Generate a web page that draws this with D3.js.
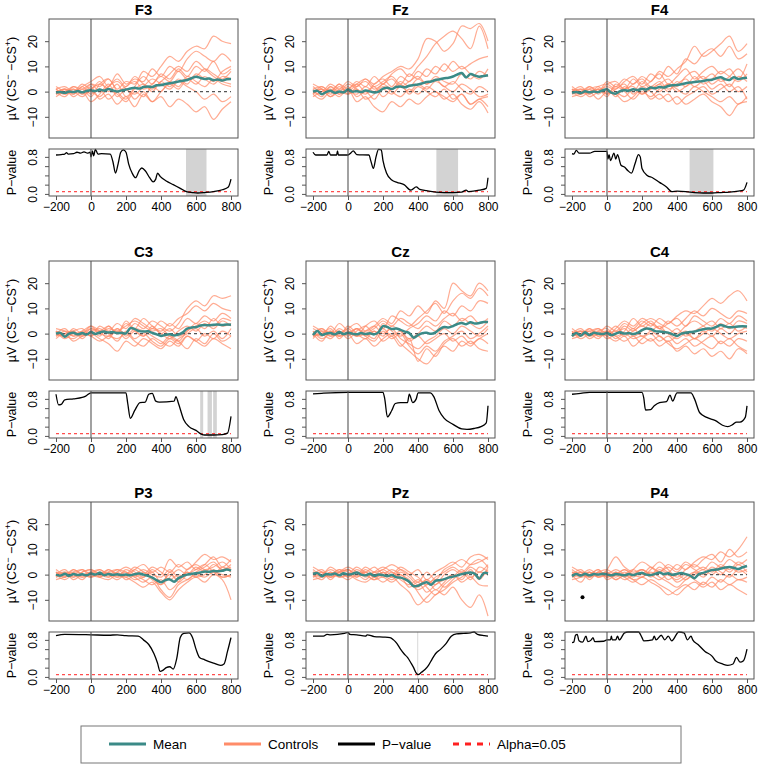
<!DOCTYPE html>
<meta charset="utf-8">
<style>
  body { margin: 0; background: #fff; }
  text { font-family: "Liberation Sans", Arial, sans-serif; fill: #000; }
  .title { font-size: 15px; font-weight: bold; text-anchor: middle; }
  .tick text { font-size: 12px; }
  .axlab { font-size: 12.5px; text-anchor: middle; }
  .legend text { font-size: 13.5px; }
</style>
<body>
<script src="https://d3js.org/d3.v7.min.js"></script>
<script>

var channels = ["F3", "Fz", "F4", "C3", "Cz", "C4", "P3", "Pz", "P4"];

var ctrlTimes = [-200, -150, -100, -50, 0, 50, 100, 150, 200, 250, 300, 350, 400, 450, 500, 550, 600, 650, 700, 750, 800];
var meanTimes = d3.range(-200, 801, 25);
var xTicks = [-200, 0, 200, 400, 600, 800];
var yTicks = [-10, 0, 10, 20];
var pTicks = [0, 0.2, 0.4, 0.6, 0.8];
var pLabels = [0, 0.8];
var alpha = 0.05;

// group means (25 ms steps)
var meanF3 = [-0.4,-0.2,-0.5,0,-0.2,0.2,-0.3,0.3,0.5,0.2,0.8,0.4,1.0,0.5,0,0.5,0.8,1.2,1.5,1.2,1.8,2.0,1.8,2.5,2.6,3.0,3.3,3.6,4.0,4.3,4.6,5.3,5.9,5.4,5.0,5.2,4.5,4.8,4.4,4.9,5.0];
var meanFz = [0,0.3,-1,-0.2,0.3,-0.5,0,-0.3,0.8,0,0.2,-0.2,0.4,0.1,-0.4,0,1.2,1.5,1.0,1.8,2.0,1.7,2.3,2.6,2.8,3.3,3.8,4.0,4.6,4.9,5.3,5.5,6.0,6.8,7.4,5.6,7.0,6.4,5.9,6.2,6.5];
var meanF4 = [-0.5,-0.2,-0.6,0.1,-0.3,0,-0.2,0.5,0.9,-0.4,-0.8,0.2,0.5,0.4,0.9,0.6,1.1,0.8,1.6,1.3,1.8,1.6,2.2,2.5,2.6,2.9,3.3,3.6,3.8,4.0,4.2,4.6,4.7,5.3,5.7,4.9,4.6,5.7,5.0,5.3,5.5];
var meanC3 = [0,0.3,-1.2,0,0.3,-0.3,0.2,-0.4,0.6,-0.2,0.5,0.8,0.4,0.6,0.2,0.3,0.1,2.2,1.8,1.0,0.8,0.9,0.3,-0.3,-0.9,-0.5,-0.3,-0.7,-0.4,0.5,2.0,2.4,2.6,3.2,3.4,3.3,3.5,3.6,3.4,3.6,3.5];
var meanCz = [-0.6,1.0,-0.5,0,0.2,-0.3,0.6,-0.2,0.3,0,-0.3,0.2,-0.2,0.1,-0.3,0.6,3.0,2.6,1.8,2.0,1.5,0.8,0.2,-1.6,-0.6,0.2,0.3,-0.1,0.5,1.8,2.6,2.4,3.0,3.8,4.2,3.7,4.5,4.0,4.2,4.6,4.6];
var meanC4 = [-1.0,0.2,-0.8,0.5,-0.6,0.3,0,-0.2,0.2,-0.6,0,0.5,0,0.2,-0.2,0.3,1.4,2.0,1.8,1.0,0.8,0.6,0.4,-0.3,-0.9,0,0.4,0.6,0.8,1.3,1.7,2.0,2.0,2.7,3.4,2.9,2.5,2.6,2.8,2.9,2.8];
var meanP3 = [0,-0.4,0.3,-0.5,0.2,-0.2,0.1,-0.3,0.4,0,0.7,-0.2,0.2,-0.1,0.1,-0.2,0,-0.3,0.2,0.4,0,-0.5,-1.2,-2.2,-3.0,-2.2,-1.9,-2.8,-1.4,-0.6,0,0.3,0.5,0.8,1.2,1.1,1.4,1.3,1.5,2.0,1.6];
var meanPz = [0.3,0.6,-0.6,0.2,0,0.4,-0.3,0.5,0,0.3,0.8,0,-0.3,0.3,-0.5,0,-0.2,-0.6,-0.2,-1.0,-1.2,-1.8,-2.8,-4.6,-4.4,-3.6,-3.0,-4.0,-2.5,-2.2,-1.8,-1.2,-0.8,-0.3,0.2,0.6,0.8,0.3,-1.6,0.6,0.5];
var meanP4 = [-0.6,0.2,-0.4,0.3,-0.3,0.2,0,0.3,0.1,-0.3,0.2,0,-0.3,0.2,-0.2,0.4,0.6,0,-0.2,0.3,0.8,0.2,0.5,-0.1,0.3,0.6,0.2,-0.4,-1.4,0.2,0.7,1.3,1.8,2.0,2.4,2.8,3.0,2.7,2.2,2.9,3.4];

// individual controls (50 ms steps)
var ctrlF3 = [
  [1,-1,2,0,3,2,5,1,4,3,8,6,10,14,12,16,18,17,22,20,19],
  [-1,1,0,2,4,6,2,7,3,5,4,9,6,10,8,13,16,14,12,15,12],
  [2,0,-1,1,-2,3,5,0,-3,2,6,3,7,5,9,6,10,8,12,7,9],
  [0,-2,1,-1,2,-3,-1,-5,-2,-6,-1,-4,0,3,1,5,3,6,4,8,10],
  [-1,1,-2,0,-4,-1,3,-2,1,-3,0,-4,-2,-6,-3,-5,-8,-6,-11,-7,-4],
  [1,2,0,3,1,4,0,3,-2,1,3,0,4,2,5,3,7,5,3,6,5],
  [-2,0,1,-1,0,-2,2,4,1,-1,2,5,3,1,4,2,0,-3,-1,-4,-2],
  [0,1,-1,2,-1,1,-3,0,2,4,1,3,6,4,8,5,6,9,7,5,8],
  [1,-1,0,-2,1,3,1,-1,-4,0,-2,2,0,4,2,6,4,2,5,3,2],
  [-1,0,2,1,3,0,2,5,2,6,3,1,4,7,10,8,12,9,6,4,3]
];
var ctrlFz = [
  [2,0,3,1,4,2,5,3,6,8,10,9,13,21,20,16,19,26,25,27,20],
  [-1,2,0,3,1,4,2,6,3,7,9,6,10,14,19,22,24,21,17,26,17],
  [1,-2,2,0,3,1,-1,3,5,2,6,4,8,6,10,8,12,9,11,13,14],
  [0,1,-1,2,0,3,5,2,4,6,3,7,5,9,7,11,8,10,7,5,9],
  [-2,0,1,-1,2,-2,0,-3,1,-1,2,0,3,1,4,2,0,3,1,-2,-1],
  [3,1,-2,0,-1,1,-3,-1,2,0,-2,1,-1,2,0,-2,-4,-1,-5,-3,-6],
  [-1,-3,0,-2,1,-4,-2,-6,-8,-4,-6,-3,-5,-2,0,-3,-1,-5,-7,-4,-8.5],
  [1,2,0,3,-1,2,4,1,3,5,2,4,6,3,5,2,4,1,-1,2,0],
  [0,-1,2,-1,1,3,0,2,-2,1,3,-1,2,0,-2,1,-3,-1,-5,-3,-2],
  [-1,1,-2,1,0,-1,2,0,3,1,4,2,5,3,6,4,3,7,5,8,6]
];
var ctrlF4 = [
  [1,-1,2,0,4,2,5,3,6,4,8,6,9,12,18,14,16,19,22,16,19],
  [-1,1,0,2,3,1,4,6,3,7,5,10,7,13,11,15,17,14,18,13,15],
  [0,2,-1,1,-2,3,1,5,2,4,7,3,6,9,5,8,10,7,9,5,11],
  [2,0,1,-1,1,-2,2,0,4,1,3,0,4,2,6,3,5,8,6,4,7],
  [-2,-1,0,-3,0,-1,-4,-2,1,-3,-1,-4,-2,-5,-3,-1,-4,-6,-9.5,-5,-4],
  [0,1,-2,0,2,0,-2,1,-1,2,0,3,1,-1,2,0,-2,-4,-2,-5,-2],
  [1,-1,1,2,-1,1,3,-1,2,0,-3,-1,-5,-2,0,2,-1,1,3,0,2],
  [-1,0,2,0,3,4,1,3,5,2,4,1,3,5,2,4,1,3,0,2,-3],
  [0,-2,0,1,-1,2,0,-3,0,-2,1,3,0,2,4,6,3,5,2,6,4],
  [1,0,-1,1,0,-1,1,2,-1,1,3,5,2,6,8,5,7,4,6,9,5]
];
var ctrlC3 = [
  [1,-1,2,0,3,1,-2,2,0,4,2,5,3,1,4,10,13,11,15,14,15],
  [0,2,-1,1,-1,3,1,4,2,6,4,2,5,3,6,8,11,9,12,10,9],
  [-1,0,1,-2,1,-1,3,0,5,2,6,3,1,4,2,6,4,7,5,8,6],
  [2,1,-1,0,2,0,-1,1,-2,1,-1,2,0,-2,1,3,1,4,2,5,3],
  [-2,0,-3,-1,0,-2,-4,-7,-3,-5,-2,-4,-6,-3,-5,-1,-3,0,-2,1,-1],
  [0,-1,1,2,-1,1,0,-3,1,-2,0,-3,-5,-2,-4,-1,-3,-5,-2,-4,-6],
  [1,-2,0,-1,1,2,0,2,-1,2,1,-1,-3,-5,-2,0,2,-1,1,-2,2],
  [-1,1,0,1,3,0,2,1,3,5,3,1,2,-1,-3,1,3,5,3,6,5],
  [0,-1,-2,0,-1,-3,-1,-2,0,-3,-5,-2,-4,-1,-3,-6,-2,-4,0,-3,-1],
  [1,0,1,-1,2,1,3,0,4,1,-1,3,0,2,-1,1,4,2,6,3,4]
];
var ctrlCz = [
  [1,-1,3,0,2,4,1,3,6,4,9,7,11,8,13,10,20,17,15,20,17],
  [-1,2,0,4,1,-1,3,5,2,7,5,3,6,9,12,8,13,16,14,18,15],
  [2,0,-2,1,-1,2,0,-2,4,1,-1,2,4,7,5,9,7,11,9,13,12],
  [-2,1,0,-1,3,0,-2,1,-1,3,1,-2,0,3,1,5,3,6,4,2,5],
  [0,-3,1,-1,0,-4,-2,-5,-2,0,-4,-7,-10,-12,-8,-5,-7,-3,-5,-2,-4],
  [3,1,-1,2,0,2,-1,1,-3,-1,-5,-2,-11,-6,-9,-4,-2,-5,-3,-6,-7],
  [-1,0,2,-2,1,-1,1,3,0,2,-2,-4,-6,-3,-1,2,0,3,1,-1,2],
  [1,-2,0,1,-2,1,3,0,2,-1,1,-3,-1,-4,-2,0,-3,-1,-4,-2,0],
  [0,2,-1,0,2,-1,0,2,5,3,6,4,2,5,3,6,8,5,7,4,6],
  [-1,0,1,-1,0,2,-1,-3,1,-2,0,-5,-8,-5,-7,-3,-1,1,-2,0,3]
];
var ctrlC4 = [
  [1,-1,2,0,3,1,4,2,5,3,6,4,7,9,8,11,14,12,15,17,13],
  [-1,1,0,2,-1,2,5,3,6,4,2,5,3,6,9,7,10,8,6,9,8],
  [0,2,-1,1,2,-1,1,6,3,5,2,4,6,3,7,5,3,6,4,7,5],
  [2,0,1,-1,0,3,0,2,-1,1,3,0,2,-1,1,3,5,2,4,1,3],
  [-2,-1,0,-2,1,-1,-3,-1,-4,-2,-5,-3,-7,-5,-8,-6,-9,-7,-10,-6,-8],
  [0,1,-2,0,-1,-3,-1,-5,-2,0,-3,-1,-4,-2,-5,-3,-1,-4,-2,-5,-7],
  [-1,0,1,2,0,1,-1,1,3,1,-1,-3,-1,1,-2,0,2,0,-2,0,1],
  [1,-2,0,1,-2,0,2,-1,1,4,2,0,-2,0,-2,1,-1,2,0,3,2],
  [0,1,-1,0,1,-2,0,-2,-1,-3,-1,-4,-6,-4,-2,-4,-6,-3,-5,-2,-3],
  [-1,0,2,-1,1,0,3,1,4,6,4,2,0,3,5,3,1,4,2,5,4]
];
var ctrlP3 = [
  [1,-1,2,0,1,-1,2,0,-1,2,4,1,3,1,4,2,5,8,6,7,5],
  [-1,1,0,2,-1,1,-1,1,3,1,-1,2,0,6,3,5,2,4,7,3,6],
  [0,2,-1,1,2,0,1,-1,0,3,1,-2,-4,-1,2,0,3,1,4,2,3],
  [2,0,1,-1,0,2,0,2,1,-1,-3,-1,-6,-9,-4,-2,0,-1,1,0,-1],
  [-2,-1,0,-2,1,-1,-2,0,-1,-3,-5,-3,-7,-10,-6,-3,-1,-3,0,-2,-10],
  [0,1,-2,0,-1,1,0,-1,2,0,-2,-4,-2,-6,-3,1,-1,2,0,3,1],
  [1,-1,1,2,0,-1,1,2,0,2,0,3,1,-2,0,-2,1,3,5,2,4],
  [-1,0,-1,1,2,0,-1,1,-2,0,2,0,-1,2,-1,1,-1,0,2,-1,0],
  [0,-2,0,-1,1,2,0,-2,0,-2,-1,1,-3,0,-2,2,4,2,3,5,2],
  [1,0,2,0,-1,0,2,0,1,-1,1,-1,-4,1,-3,0,2,4,1,-1,0]
];
var ctrlPz = [
  [2,0,3,1,2,0,3,1,2,4,2,0,2,-2,1,3,5,3,7,8,6],
  [-1,1,0,2,-1,2,0,-2,1,-1,2,0,-3,1,-2,2,4,6,4,5,7],
  [0,2,-1,1,3,1,-1,1,3,1,-1,-3,-5,-2,-4,0,2,0,3,1,4],
  [3,1,-1,0,2,-1,1,-1,0,2,0,-2,-7,-11,-8,-6,-3,-1,1,-1,2],
  [-2,-1,1,-1,0,-2,-3,-1,-3,-1,-4,-7,-12,-9,-6,-8,-5,-10,-13,-8,-16.5],
  [0,1,-2,1,-1,1,0,-2,-1,-3,-1,-5,-3,-7,-4,-2,0,-3,-1,-4,-4.5],
  [1,-1,0,2,1,-1,2,0,2,0,3,1,-1,-4,-1,1,3,1,4,6,3],
  [-1,0,2,0,-2,0,-2,1,-1,1,-2,-4,-2,-5,-8,-4,-1,2,-1,1,0],
  [0,-2,1,-1,0,3,1,3,0,-2,0,-3,-6,-4,-2,-5,-2,1,-2,3,1],
  [1,0,-1,1,2,0,1,-1,1,-1,1,-1,-4,-2,-6,-3,0,-2,2,-2,3]
];
var ctrlP4 = [
  [2,0,1,-1,2,7,3,1,2,0,3,1,4,2,5,7,6,9,7,10,15],
  [-1,1,0,2,-1,1,-1,2,5,3,1,4,2,5,3,6,8,5,10,7,9],
  [0,2,-1,1,2,0,2,0,-1,2,5,2,-1,2,4,2,5,3,6,4,6],
  [3,1,-1,0,1,-1,1,-1,1,-1,1,-2,0,-2,1,3,1,4,2,5,3],
  [-2,-1,1,-1,0,-2,0,-2,-4,-2,-4,-6,-8,-5,-3,-5,-3,-6,-4,-6,-8],
  [0,1,-2,1,-1,1,-1,-3,-1,-3,-5,-8,-6,-4,-6,-3,-5,-2,-4,-2,-3],
  [1,-1,0,2,-2,0,2,0,2,0,-2,0,-3,-1,1,-1,2,0,3,1,2],
  [-1,0,2,0,1,-2,0,2,0,3,1,3,1,4,2,0,3,1,-1,2,0],
  [0,-3,1,-1,0,2,0,-2,-1,1,-1,-3,-5,-2,0,2,0,3,1,4,1],
  [1,0,-1,1,-1,0,-2,0,2,0,2,0,-2,0,-2,-4,-1,-3,0,-2,-1]
];

// p-values as [time, p]
var pF3 = [[-200,0.84],[-170,0.85],[-150,0.86],[-140,0.89],[-130,0.86],[-100,0.87],[-80,0.9],[-60,0.88],[-40,0.91],[-20,0.88],[-5,0.9],[0,0.8],[8,0.93],[15,0.82],[25,0.96],[40,0.86],[60,0.87],[110,0.86],[125,0.7],[140,0.45],[155,0.65],[170,0.9],[185,0.95],[200,0.9],[215,0.65],[235,0.45],[255,0.35],[275,0.5],[290,0.56],[310,0.5],[335,0.35],[355,0.26],[370,0.32],[380,0.45],[395,0.38],[430,0.28],[470,0.2],[510,0.12],[545,0.05],[580,0.03],[610,0.02],[650,0.03],[700,0.05],[750,0.09],[785,0.15],[800,0.32]];
var pFz = [[-200,0.9],[-185,0.84],[-120,0.84],[-110,0.92],[-100,0.84],[-65,0.84],[-60,0.93],[-55,0.84],[0,0.84],[15,0.88],[30,0.93],[50,0.85],[120,0.84],[130,0.72],[145,0.55],[160,0.8],[175,0.96],[190,0.95],[200,0.72],[220,0.45],[250,0.3],[280,0.25],[320,0.2],[360,0.08],[390,0.15],[410,0.1],[450,0.07],[500,0.04],[550,0.03],[600,0.03],[650,0.04],[675,0.08],[690,0.05],[750,0.08],[790,0.12],[800,0.35]];
var pF4 = [[-200,0.87],[-190,0.86],[-175,0.94],[-160,0.88],[-130,0.88],[-100,0.88],[-70,0.92],[0,0.92],[5,0.75],[12,0.85],[20,0.72],[40,0.88],[50,0.75],[60,0.85],[80,0.62],[100,0.58],[120,0.5],[140,0.45],[160,0.65],[180,0.85],[190,0.8],[200,0.55],[230,0.4],[260,0.35],[300,0.25],[340,0.15],[370,0.05],[400,0.06],[450,0.05],[500,0.03],[550,0.02],[600,0.02],[650,0.03],[700,0.04],[750,0.06],[780,0.08],[800,0.25]];
var pC3 = [[-200,0.9],[-185,0.67],[-170,0.68],[-150,0.78],[-100,0.8],[-50,0.83],[-30,0.86],[0,0.93],[200,0.93],[210,0.7],[225,0.38],[250,0.55],[280,0.72],[310,0.73],[330,0.9],[350,0.92],[370,0.75],[390,0.73],[475,0.75],[485,0.85],[500,0.7],[530,0.35],[560,0.2],[600,0.12],[630,0.04],[650,0.02],[700,0.02],[750,0.03],[780,0.06],[800,0.42]];
var pCz = [[-200,0.91],[-150,0.92],[-100,0.93],[0,0.94],[200,0.94],[210,0.8],[225,0.41],[250,0.55],[270,0.7],[300,0.72],[340,0.72],[350,0.9],[370,0.72],[390,0.8],[400,0.93],[470,0.93],[490,0.85],[520,0.55],[550,0.38],[600,0.25],[650,0.15],[680,0.14],[720,0.16],[760,0.2],[790,0.28],[800,0.65]];
var pC4 = [[-200,0.9],[-150,0.92],[-100,0.94],[0,0.94],[200,0.94],[210,0.82],[220,0.56],[250,0.57],[270,0.65],[300,0.72],[340,0.74],[360,0.88],[375,0.75],[400,0.93],[480,0.93],[500,0.8],[530,0.5],[570,0.4],[620,0.33],[660,0.23],[690,0.2],[720,0.25],[740,0.3],[760,0.3],[790,0.4],[800,0.65]];
var pP3 = [[-200,0.89],[-150,0.92],[0,0.91],[100,0.9],[150,0.91],[200,0.89],[270,0.88],[300,0.8],[330,0.7],[360,0.5],[380,0.3],[395,0.12],[410,0.14],[430,0.2],[450,0.22],[470,0.17],[490,0.4],[510,0.85],[530,0.94],[560,0.95],[580,0.85],[600,0.6],[620,0.42],[650,0.37],[700,0.3],[740,0.25],[760,0.28],[780,0.55],[800,0.85]];
var pPz = [[-200,0.88],[-140,0.88],[-120,0.92],[-100,0.91],[-20,0.94],[0,0.96],[10,0.92],[50,0.91],[100,0.88],[110,0.91],[150,0.87],[200,0.86],[240,0.85],[260,0.8],[280,0.72],[300,0.6],[320,0.5],[340,0.42],[360,0.3],[375,0.2],[390,0.08],[400,0.05],[420,0.1],[440,0.16],[460,0.25],[480,0.38],[500,0.5],[530,0.6],[560,0.72],[590,0.88],[620,0.93],[660,0.94],[700,0.95],[720,0.97],[740,0.92],[780,0.89],[800,0.88]];
var pP4 = [[-200,0.74],[-190,0.75],[-180,0.9],[-170,0.92],[-160,0.78],[-140,0.75],[-120,0.88],[-110,0.76],[-90,0.8],[-80,0.85],[-70,0.76],[-20,0.77],[0,0.8],[20,0.8],[25,0.88],[30,0.8],[50,0.8],[60,0.88],[70,0.8],[100,0.95],[120,0.97],[180,0.97],[200,0.85],[210,0.78],[260,0.8],[270,0.88],[280,0.8],[310,0.9],[330,0.8],[350,0.88],[370,0.78],[410,0.97],[440,0.95],[460,0.8],[480,0.88],[490,0.8],[520,0.7],[560,0.55],[600,0.45],[620,0.35],[660,0.28],[690,0.25],[720,0.28],[740,0.42],[760,0.32],[780,0.35],[800,0.6]];

// significant windows (shaded)
var sigF3 = [[543, 660]];
var sigFz = [[505, 629]];
var sigF4 = [[472, 608]];
var sigC3 = [[624, 641], [666, 691], [698, 719]];
var sigPz = [[396, 401]];

// outlier dot in P4
var dotP4 = [[-140, -9]];

var means = {F3: meanF3, Fz: meanFz, F4: meanF4, C3: meanC3, Cz: meanCz, C4: meanC4, P3: meanP3, Pz: meanPz, P4: meanP4};
var ctrls = {F3: ctrlF3, Fz: ctrlFz, F4: ctrlF4, C3: ctrlC3, Cz: ctrlCz, C4: ctrlC4, P3: ctrlP3, Pz: ctrlPz, P4: ctrlP4};
var pvals = {F3: pF3, Fz: pFz, F4: pF4, C3: pC3, Cz: pCz, C4: pC4, P3: pP3, Pz: pPz, P4: pP4};
var sigs = {F3: sigF3, Fz: sigFz, F4: sigF4, C3: sigC3, Pz: sigPz};
var dots = {P4: dotP4};

var colMean = "#3b8a87", colCtrl = "#ff8c69", colP = "#000", colAlpha = "#ff2020";

var width = 762, height = 766;
var colX = [49, 306, 565], boxW = 189;
var rowY = [19, 261, 502], upH = 119, gap = 11, loH = 47;

var svg = d3.select("body").append("svg")
  .attr("width", width)
  .attr("height", height);

var x = d3.scaleLinear().domain([-240, 840]).range([0, boxW]);
var y = d3.scaleLinear().domain([-18.4, 28.8]).range([upH, 0]);
var yp = d3.scaleLinear().domain([-0.045, 0.97]).range([loH, 0]);

var ctrlLine = d3.line()
  .x(function(d, i) { return x(ctrlTimes[i]); })
  .y(function(d) { return y(d); })
  .curve(d3.curveCatmullRom);
var meanLine = d3.line()
  .x(function(d, i) { return x(meanTimes[i]); })
  .y(function(d) { return y(d); })
  .curve(d3.curveCatmullRom);
var pLine = d3.line()
  .x(function(d) { return x(d[0]); })
  .y(function(d) { return yp(d[1]); })
  .curve(d3.curveMonotoneX);

channels.forEach(function(ch, k) {
  var gx = colX[k % 3], gy = rowY[Math.floor(k / 3)];

  // upper panel
  var up = svg.append("g").attr("transform", "translate(" + gx + "," + gy + ")");

  up.append("text").attr("class", "title")
    .attr("x", boxW / 2).attr("y", -4).text(ch);

  up.selectAll(".ctrl").data(ctrls[ch]).enter().append("path")
    .attr("d", ctrlLine)
    .attr("fill", "none")
    .attr("stroke", colCtrl)
    .attr("stroke-opacity", 0.72)
    .attr("stroke-width", 1.2);

  up.append("line")
    .attr("x1", x(-200)).attr("x2", x(800))
    .attr("y1", y(0)).attr("y2", y(0))
    .attr("stroke", "#555").attr("stroke-width", 1.1)
    .attr("stroke-dasharray", "3,3");

  up.append("path")
    .attr("d", meanLine(means[ch]))
    .attr("fill", "none")
    .attr("stroke", colMean)
    .attr("stroke-width", 2.5);

  up.selectAll(".dot").data(dots[ch] || []).enter().append("circle")
    .attr("cx", function(d) { return x(d[0]); })
    .attr("cy", function(d) { return y(d[1]); })
    .attr("r", 2).attr("fill", "#000");

  up.append("line")
    .attr("x1", x(0)).attr("x2", x(0)).attr("y1", 0).attr("y2", upH)
    .attr("stroke", "#555").attr("stroke-width", 1.1);

  up.append("rect").attr("width", boxW).attr("height", upH)
    .attr("fill", "none").attr("stroke", "#555");

  var ay = up.append("g").call(d3.axisLeft(y).tickValues(yTicks).tickSize(4).tickPadding(3));
  ay.select(".domain").remove();
  ay.selectAll(".tick line").attr("stroke", "#555");
  ay.selectAll(".tick text")
    .attr("transform", "rotate(-90)")
    .attr("x", 0).attr("y", -12)
    .attr("text-anchor", "middle")
    .attr("dy", 0);
  ay.selectAll(".tick").attr("font-family", null);

  var lab = up.append("text").attr("class", "axlab")
    .attr("transform", "translate(-33," + (upH / 2) + ") rotate(-90)");
  lab.append("tspan").text("\u00b5V (CS");
  lab.append("tspan").attr("baseline-shift", "super").attr("font-size", "9px").text("\u2212");
  lab.append("tspan").text(" \u2212CS");
  lab.append("tspan").attr("baseline-shift", "super").attr("font-size", "9px").text("+");
  lab.append("tspan").text(")");

  // lower panel
  var lo = svg.append("g").attr("transform", "translate(" + gx + "," + (gy + upH + gap) + ")");

  lo.selectAll(".sig").data(sigs[ch] || []).enter().append("rect")
    .attr("x", function(d) { return x(d[0]); })
    .attr("width", function(d) { return x(d[1]) - x(d[0]); })
    .attr("y", 0).attr("height", loH)
    .attr("fill", "#d3d3d3");

  lo.append("line")
    .attr("x1", x(-200)).attr("x2", x(800))
    .attr("y1", yp(alpha)).attr("y2", yp(alpha))
    .attr("stroke", colAlpha).attr("stroke-opacity", 0.8).attr("stroke-width", 1.3)
    .attr("stroke-dasharray", "3,3");

  lo.append("path")
    .attr("d", pLine(pvals[ch]))
    .attr("fill", "none")
    .attr("stroke", colP)
    .attr("stroke-width", 1.3);

  lo.append("line")
    .attr("x1", x(0)).attr("x2", x(0)).attr("y1", 0).attr("y2", loH)
    .attr("stroke", "#555").attr("stroke-width", 1.1);

  lo.append("rect").attr("width", boxW).attr("height", loH)
    .attr("fill", "none").attr("stroke", "#555");

  var apy = lo.append("g").call(d3.axisLeft(yp).tickValues(pTicks).tickSize(4)
    .tickFormat(function(d) { return pLabels.indexOf(d) >= 0 ? d3.format(".1f")(d) : ""; }));
  apy.select(".domain").remove();
  apy.selectAll(".tick line").attr("stroke", "#555");
  apy.selectAll(".tick text")
    .attr("transform", "rotate(-90)")
    .attr("x", 0).attr("y", -12)
    .attr("text-anchor", "middle")
    .attr("dy", 0);
  apy.selectAll(".tick").attr("font-family", null);

  lo.append("text").attr("class", "axlab")
    .attr("transform", "translate(-33," + (loH / 2) + ") rotate(-90)")
    .text("P\u2212value");

  var ax = lo.append("g").attr("transform", "translate(0," + loH + ")")
    .call(d3.axisBottom(x).tickValues(xTicks).tickSize(4).tickPadding(2)
      .tickFormat(function(d) { return d < 0 ? "\u2212" + Math.abs(d) : d; }));
  ax.select(".domain").remove();
  ax.selectAll(".tick line").attr("stroke", "#555");
  ax.selectAll(".tick").attr("font-family", null);
});

// legend
var legendKeys = ["Mean", "Controls", "P\u2212value", "Alpha=0.05"];
var legendCols = [colMean, colCtrl, colP, colAlpha];
var legendX = [109, 224, 338, 453];

var legend = svg.append("g").attr("class", "legend");
legend.append("rect")
  .attr("x", 81).attr("y", 726).attr("width", 600).attr("height", 37)
  .attr("fill", "none").attr("stroke", "#777");

var items = legend.selectAll(".item").data(legendKeys).enter().append("g")
  .attr("transform", function(d, i) { return "translate(" + legendX[i] + ",744)"; });
items.append("line")
  .attr("x1", 0).attr("x2", 37)
  .attr("stroke", function(d, i) { return legendCols[i]; })
  .attr("stroke-width", 2.8)
  .attr("stroke-dasharray", function(d, i) { return i == 3 ? "6,6" : null; });
items.append("text")
  .attr("x", 44).attr("dy", "0.35em")
  .text(function(d) { return d; });
</script>
</body>
